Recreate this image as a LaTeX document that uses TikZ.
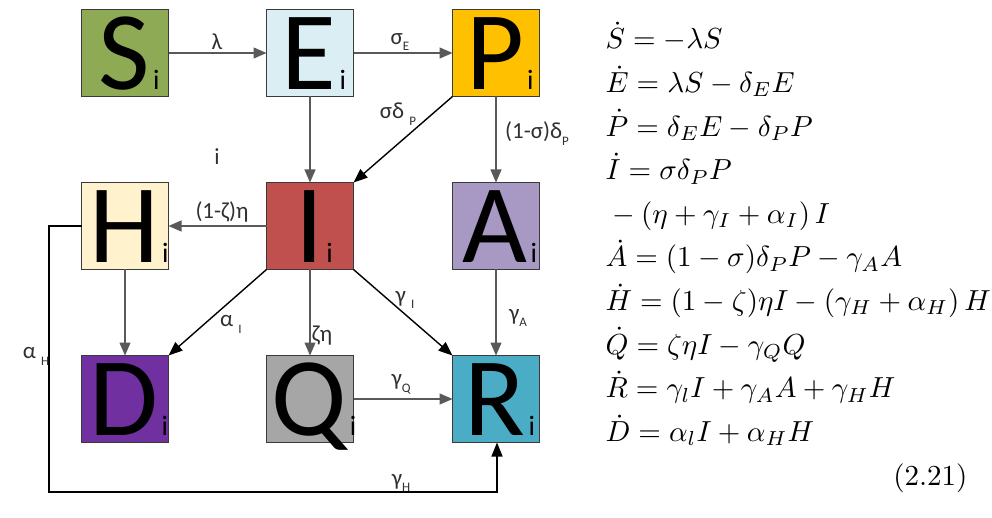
\documentclass[tikz,border=0pt]{standalone}
\usepackage[no-math]{fontspec}
\newfontfamily\cf{Carlito}
\usetikzlibrary{arrows.meta}
\definecolor{boxline}{HTML}{3A3A3A}
\definecolor{arrowgray}{HTML}{595959}
\definecolor{labgray}{HTML}{303030}
\definecolor{cS}{HTML}{8FAA54}
\definecolor{cE}{HTML}{DAEEF3}
\definecolor{cP}{HTML}{FFC000}
\definecolor{cH}{HTML}{FFF2CC}
\definecolor{cI}{HTML}{C0504D}
\definecolor{cA}{HTML}{A898C4}
\definecolor{cD}{HTML}{7030A0}
\definecolor{cQ}{HTML}{A6A6A6}
\definecolor{cR}{HTML}{4BACC6}
\newcommand\sbx[1]{\raisebox{-0.3em}{\fontsize{13}{13}\selectfont #1}}
\tikzset{
  comp/.style={draw=boxline, line width=1.3pt, minimum width=87pt, minimum height=87pt, inner sep=0pt, outer sep=0pt},
  flow/.style={draw=arrowgray, line width=1.3pt, -{Triangle[length=13pt,width=11pt]}, color=arrowgray},
  dflow/.style={draw=black, line width=1.4pt, -{Triangle[length=14pt,width=11pt]}},
  lab/.style={font=\cf\fontsize{23}{23}\selectfont, inner sep=0pt, text=labgray},
  eqn/.style={anchor=base west, inner sep=0pt, scale=2.9, transform shape},
}
\newcommand\comp[5]{%
  \node[comp, fill=#4] (#1) at (#2,#3) {};
  \node[anchor=base, inner sep=0pt, font=\cf] (#1-t) at ([xshift=4pt,yshift=7pt]#1.south)
    {\fontsize{112}{112}\selectfont #5\hspace{3pt}\fontsize{28}{28}\selectfont i};
}
\begin{document}
\begin{tikzpicture}[x=1pt,y=-1pt]
\useasboundingbox (0,0) rectangle (992,518);
% compartments
\comp{S}{125}{53}{cS}{S}
\comp{E}{310}{53}{cE}{E}
\comp{P}{496}{53}{cP}{P}
\comp{H}{125}{226}{cH}{H}
\comp{I}{310}{226}{cI}{I}
\comp{A}{496}{226}{cA}{A}
\comp{D}{125}{399}{cD}{D}
\comp{Q}{310}{399}{cQ}{Q}
\comp{R}{496}{399}{cR}{R}
% connectors
\draw[flow] (S) -- (E);
\draw[flow] (E) -- (P);
\draw[flow] (E) -- (I);
\draw[dflow] (P.south west) -- (I.north east);
\draw[flow] (P) -- (A);
\draw[flow] (I) -- (H);
\draw[flow] (H) -- (D);
\draw[dflow] (I.south west) -- (D.north east);
\draw[flow] (I) -- (Q);
\draw[dflow] (I.south east) -- (R.north west);
\draw[flow] (A) -- (R);
\draw[flow] (Q) -- (R);
\coordinate (hl) at (49,226);
\coordinate (hb) at (49,492);
\coordinate (rb) at (497,492);
\draw[line width=1.3pt, -{Triangle[length=14pt,width=11pt]}] (H.west) -- (hl) -- (hb) -- (rb) -- (R.south -| rb);
% labels
\node[lab] (l1) at (217,42) {λ};
\node[lab] (l2) at (400,42) {σ\sbx{E}};
\node[lab] (l3) at (398,114) {σδ \sbx{P}};
\node[lab, anchor=west] (l4) at (505,134) {(1-σ)δ\sbx{P}};
\node[lab] (l5) at (217,157) {i};
\node[lab] (l6) at (222,212) {(1-ζ)η};
\node[lab] (l7) at (231,324) {α \sbx{I}};
\node[lab] (l8) at (322,336) {ζη};
\node[lab] (l9) at (405,300) {γ \sbx{I}};
\node[lab] (l10) at (518,318) {γ\sbx{A}};
\node[lab] (l11) at (401,384) {γ\sbx{Q}};
\node[lab] (l12) at (401,483) {γ\sbx{H}};
\node[lab] (l13) at (36,356) {α \sbx{H}};
% equations
\node[eqn] (q1) at (605,49) {$\dot S = -\lambda S$};
\node[eqn] (q2) at (605,92.6) {$\dot E = \lambda S - \delta_E E$};
\node[eqn] (q3) at (605,136.2) {$\dot P = \delta_E E - \delta_P P$};
\node[eqn] (q4) at (605,179.8) {$\dot I = \sigma\delta_P P$};
\node[eqn] (q5) at (605,223.4) {${}-(\eta+\gamma_I+\alpha_I)\,I$};
\node[eqn] (q6) at (605,267) {$\dot A = (1-\sigma)\delta_P P - \gamma_A A$};
\node[eqn] (q7) at (605,310.6) {$\dot H = (1-\zeta)\eta I - (\gamma_H+\alpha_H)\,H$};
\node[eqn] (q8) at (605,354.2) {$\dot Q = \zeta\eta I - \gamma_Q Q$};
\node[eqn] (q9) at (605,397.8) {$\dot R = \gamma_l I + \gamma_A A + \gamma_H H$};
\node[eqn] (q10) at (605,441.4) {$\dot D = \alpha_l I + \alpha_H H$};
\node[eqn, anchor=base east] (q11) at (968,485) {(2.21)};
\end{tikzpicture}
\end{document}
